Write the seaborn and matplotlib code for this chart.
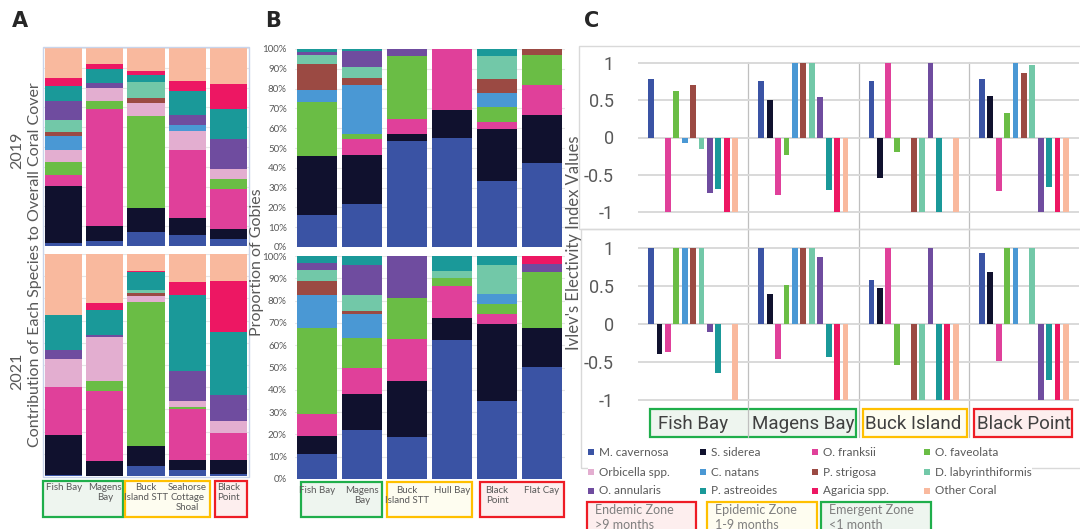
import numpy as np
import pandas as pd
import matplotlib
matplotlib.use("Agg")
import matplotlib.pyplot as plt
import seaborn as sns
from matplotlib.patches import Rectangle
from matplotlib.transforms import blended_transform_factory

# ---- data -------------------------------------------------------------
species = ["M. cavernosa", "S. siderea", "O. franksii", "O. faveolata",
           "Orbicella spp.", "C. natans", "P. strigosa", "D. labyrinthiformis",
           "O. annularis", "P. astreoides", "Agaricia spp.", "Other Coral"]
species_colors = ["#3a53a4", "#10112e", "#e0409a", "#6abd45", "#e3aed0", "#4a98d4",
                  "#9b4a43", "#72c8a8", "#6f4c9f", "#1a9999", "#ed1763", "#f9b99e"]

# A: % contribution of each species to coral cover (species order as above)
coral_sites = ["Fish Bay", "Magens\nBay", "Buck\nIsland STT", "Seahorse\nCottage\nShoal", "Black\nPoint"]
coral_2019 = [
    [1.7, 28.8, 5.6, 6.1, 6.1, 7.1, 2.2, 5.9, 9.8, 7.4, 3.9, 15.4],
    [2.7, 7.6, 59.0, 4.0, 6.7, 0, 0, 0, 2.4, 6.9, 2.5, 8.2],
    [6.9, 12.1, 0, 46.7, 6.7, 0, 2.5, 7.9, 0, 3.7, 1.9, 11.6],
    [5.6, 8.6, 34.1, 0, 9.9, 3.0, 0, 0, 4.9, 12.3, 5.1, 16.5],
    [3.4, 5.1, 20.4, 4.7, 5.1, 0, 0.3, 0, 15.0, 15.2, 12.6, 18.2],
]
coral_2021 = [
    [0.3, 18.3, 21.5, 0, 12.6, 0, 0, 0, 3.9, 15.8, 0, 27.6],
    [0, 6.6, 31.9, 4.1, 20.0, 0, 0, 0, 0.8, 11.4, 3.0, 22.2],
    [4.7, 9.0, 0, 64.7, 2.7, 0, 1.5, 1.4, 0, 7.8, 0.6, 7.6],
    [2.9, 4.2, 23.0, 1.2, 2.7, 0, 0, 0, 13.2, 34.4, 5.9, 12.5],
    [0.8, 6.3, 12.2, 0, 5.3, 0, 0, 0, 11.9, 28.3, 22.9, 12.3],
]

# B: proportion of gobies on each coral species
goby_sites = ["Fish Bay", "Magens\nBay", "Buck\nIsland STT", "Hull Bay", "Black\nPoint", "Flat Cay"]
goby_2019 = [
    [16.2, 30.0, 0, 27.2, 0, 5.7, 13.5, 4.5, 1.4, 1.5, 0, 0],
    [21.9, 24.6, 7.8, 2.9, 0, 24.8, 3.5, 5.4, 7.9, 1.2, 0, 0],
    [53.5, 3.7, 7.2, 32.2, 0, 0, 0, 0, 3.4, 0, 0, 0],
    [55.1, 13.9, 31.0, 0, 0, 0, 0, 0, 0, 0, 0, 0],
    [33.2, 26.2, 3.7, 7.4, 0, 7.4, 7.1, 11.5, 0, 3.5, 0, 0],
    [42.3, 24.4, 15.1, 15.2, 0, 0, 3.0, 0, 0, 0, 0, 0],
]
goby_2021 = [
    [11.2, 8.2, 9.7, 38.8, 0, 14.5, 6.4, 4.8, 3.4, 3.0, 0, 0],
    [21.8, 16.3, 11.9, 13.3, 0, 10.9, 1.0, 7.5, 13.1, 4.2, 0, 0],
    [18.8, 25.1, 18.8, 18.6, 0, 0, 0, 0, 18.7, 0, 0, 0],
    [62.2, 10.2, 14.0, 3.7, 0, 0, 0, 3.2, 0, 6.7, 0, 0],
    [34.8, 34.9, 4.5, 4.3, 0, 4.3, 0, 13.0, 0, 4.2, 0, 0],
    [50.1, 17.8, 0, 24.9, 0, 0, 0, 0, 3.8, 0, 3.4, 0],
]

# C: Ivlev's electivity (no Orbicella spp.)
ivlev_sites = ["Fish Bay", "Magens Bay", "Buck Island", "Black Point"]
ivlev_species = [s for s in species if s != "Orbicella spp."]
ivlev_2019 = [
    [0.78, -0.01, -1, 0.62, -0.08, 0.70, -0.16, -0.74, -0.69, -1, -1],
    [0.76, 0.51, -0.77, -0.23, 1, 1, 1, 0.55, -0.70, -1, -1],
    [0.755, -0.54, 1, -0.19, 0, -1, -1, 1, -1, 0, -1],
    [0.78, 0.56, -0.72, 0.33, 1, 0.87, 0.97, -1, -0.66, -1, -1],
]
ivlev_2021 = [
    [1, -0.40, -0.37, 1, 1, 1, 1, -0.10, -0.65, 0, -1],
    [1, 0.40, -0.46, 0.51, 1, 1, 1, 0.875, -0.44, -1, -1],
    [0.585, 0.475, 1, -0.545, 0, -1, -1, 1, -1, -1, -1],
    [0.94, 0.68, -0.49, 1, 1, 0, 1, -1, -0.74, -1, -1],
]

zones = [("Endemic Zone\n>9 months", "red"), ("Epidemic Zone\n1-9 months", "yellow"),
         ("Emergent Zone\n<1 month", "green")]

# ---- style ------------------------------------------------------------
sns.set_style("white")
plt.rcParams['font.family'] = ['Lato', 'DejaVu Sans']

W, H = 1080, 529
GRAY = "#595959"
zone_edge = {"green": "#1fae4b", "yellow": "#ffc000", "red": "#ee1c25"}
zone_fill = {"green": "#eef5ef", "yellow": "#fefdf0", "red": "#fdeeee"}

fig = plt.figure(figsize=(W / 100, H / 100), dpi=100)


def px(x0, y0, x1, y1):
    return [x0 / W, 1 - y1 / H, (x1 - x0) / W, (y1 - y0) / H]


def stacked(ax, sites, table, width):
    vals = np.array(table)
    cum = np.cumsum(vals, axis=1)
    # draw cumulative totals from the top layer down
    for k in range(len(species) - 1, -1, -1):
        sns.barplot(x=sites, y=cum[:, k], color=species_colors[k], width=width,
                    saturation=1, linewidth=0, ax=ax)
    ax.set_xlim(-0.5, len(sites) - 0.5)
    ax.set_ylim(0, 100)
    ax.set_yticks(np.arange(0, 101, 10))
    ax.yaxis.grid(True, color="#e6e6e6", linewidth=0.8)
    ax.set_axisbelow(True)
    ax.set_xticks([])
    ax.set_xlabel("")
    ax.set_ylabel("")
    for s in ax.spines.values():
        s.set_visible(False)


def site_boxes(ax, sites, spans, y0, y1, fs, text_y):
    tr = blended_transform_factory(ax.transData, fig.transFigure)
    for (x0, x1, z) in spans:
        ax.add_patch(Rectangle((x0, 1 - y1 / H), x1 - x0, (y1 - y0) / H, transform=tr,
                               clip_on=False, facecolor=zone_fill[z], edgecolor=zone_edge[z],
                               linewidth=1.6))
    for i, s in enumerate(sites):
        ax.text(i, 1 - text_y / H, s, transform=tr, ha="center", va="top",
                multialignment="center", fontsize=fs, color=GRAY, linespacing=1.15)


# ---- panel A ----------------------------------------------------------
axA1 = fig.add_axes(px(43, 48, 249, 246))
axA2 = fig.add_axes(px(43, 254, 249, 476))
stacked(axA1, coral_sites, coral_2019, 0.9)
stacked(axA2, coral_sites, coral_2021, 0.9)
for a in (axA1, axA2):
    a.set_yticklabels([])
    a.tick_params(left=False)
fig.add_artist(Rectangle((43 / W, 1 - 477 / H), 206 / W, 430 / H, transform=fig.transFigure,
                         fill=False, edgecolor="#c9d4ea", linewidth=1.0))
site_boxes(axA2, coral_sites, [(-0.5, 1.44, "green"), (1.49, 3.55, "yellow"), (3.67, 4.45, "red")],
           481, 517, 7, 483)
fig.text(17 / W, 1 - 150 / H, "2019", rotation=90, ha="center", va="center", fontsize=11.5, color=GRAY)
fig.text(17 / W, 1 - 371 / H, "2021", rotation=90, ha="center", va="center", fontsize=11.5, color=GRAY)
fig.text(35 / W, 1 - 265 / H, "Contribution of Each Species to Overall Coral Cover", rotation=90,
         ha="center", va="center", fontsize=11.5, color=GRAY)

# ---- panel B ----------------------------------------------------------
axB1 = fig.add_axes(px(294.5, 49, 564.5, 247))
axB2 = fig.add_axes(px(294.5, 256, 564.5, 479))
stacked(axB1, goby_sites, goby_2019, 0.89)
stacked(axB2, goby_sites, goby_2021, 0.89)
for a in (axB1, axB2):
    a.set_yticklabels([f"{v}%" for v in range(0, 101, 10)], fontsize=7, color=GRAY)
    a.tick_params(left=False, pad=2)
site_boxes(axB2, goby_sites, [(-0.36, 1.44, "green"), (1.56, 3.44, "yellow"), (3.62, 5.49, "red")],
           482, 517, 7, 486)
fig.text(257 / W, 1 - 262 / H, "Proportion of Gobies", rotation=90, ha="center", va="center",
         fontsize=11.5, color=GRAY)

# ---- panel C ----------------------------------------------------------
fig.add_artist(Rectangle((579 / W, 1 - 229 / H), 520 / W, 183 / H, transform=fig.transFigure,
                         fill=False, edgecolor="#d9d9d9", linewidth=1.0))
fig.add_artist(Rectangle((581 / W, 1 - 468 / H), 520 / W, 239 / H, transform=fig.transFigure,
                         fill=False, edgecolor="#d9d9d9", linewidth=1.0))

axC1 = fig.add_axes(px(638, 59.3, 1079, 215.7))
axC2 = fig.add_axes(px(638, 244.2, 1079, 403.8))
for a, table, (sy0, sy1) in ((axC1, ivlev_2019, (62, 229)), (axC2, ivlev_2021, (229, 437))):
    df = pd.DataFrame([(site, sp, v) for site, row in zip(ivlev_sites, table)
                       for sp, v in zip(ivlev_species, row)],
                      columns=["site", "species", "value"])
    sns.barplot(data=df, x="site", y="value", hue="species", hue_order=ivlev_species,
                palette=[species_colors[species.index(s)] for s in ivlev_species],
                width=0.84, gap=0.3, saturation=1, linewidth=0, errorbar=None,
                legend=False, ax=a)
    a.set_xlim(-0.5, 3.5)
    a.set_ylim(-1.05, 1.05)
    a.set_yticks([1, 0.5, 0, -0.5, -1])
    a.set_yticklabels(["1", "0.5", "0", "-0.5", "-1"], fontsize=13, color=GRAY, family="Roboto")
    a.yaxis.grid(True, color="#d9d9d9", linewidth=1.4)
    a.set_axisbelow(True)
    a.tick_params(left=False, pad=14)
    a.set_xticks([])
    a.set_xlabel("")
    a.set_ylabel("")
    a.patch.set_alpha(0)
    for s in a.spines.values():
        s.set_visible(False)
    tr = blended_transform_factory(a.transData, fig.transFigure)
    for xs in (0.5, 1.5, 2.5):
        a.plot([xs, xs], [1 - sy0 / H, 1 - sy1 / H], transform=tr, color="#bfbfbf",
               linewidth=0.9, clip_on=False, zorder=0)

trC = blended_transform_factory(axC2.transData, fig.transFigure)
for x0, x1, z in [(-0.39, 1.48, "green"), (1.54, 2.48, "yellow"), (2.55, 3.44, "red")]:
    axC2.add_patch(Rectangle((x0, 1 - 437 / H), x1 - x0, 28 / H, transform=trC,
                             clip_on=False, facecolor=zone_fill[z], edgecolor=zone_edge[z],
                             linewidth=1.6, zorder=-1))
for i, s in enumerate(ivlev_sites):
    axC2.text(i, 1 - 424 / H, s, transform=trC, ha="center", va="center", fontsize=13.5,
              color="#404040", family="Roboto")

fig.text(574 / W, 1 - 243 / H, "Ivlev's Electivity Index Values", rotation=90, ha="center",
         va="center", fontsize=12, color=GRAY)

# legend
fig.add_artist(Rectangle((588 / W, 1 - 500 / H), 444 / W, 58 / H, transform=fig.transFigure,
                         facecolor="white", edgecolor="none"))
col_x = [591, 703, 815, 927]
row_y = [452, 472, 491]
for i, (name, c) in enumerate(zip(species, species_colors)):
    x, y = col_x[i % 4], row_y[i // 4]
    fig.add_artist(Rectangle(((x - 3) / W, 1 - (y + 3) / H), 6 / W, 6 / H,
                             transform=fig.transFigure, facecolor=c, edgecolor="none"))
    fig.text((x + 8) / W, 1 - y / H, name, ha="left", va="center", fontsize=8.5, color=GRAY)

# zone legend boxes
for (label, z), (x0, x1) in zip(zones, [(587, 696), (707, 817), (821, 931)]):
    fig.add_artist(Rectangle((x0 / W, 1 - 540 / H), (x1 - x0) / W, 38 / H, transform=fig.transFigure,
                             facecolor=zone_fill[z], edgecolor=zone_edge[z], linewidth=1.6))
    fig.text((x0 + 8) / W, 1 - 504 / H, label, ha="left", va="top", fontsize=9, color="#7f7f7f",
             linespacing=1.3)

# panel letters
for letter, x in (("A", 12), ("B", 265), ("C", 584)):
    fig.text(x / W, 1 - 21 / H, letter, ha="left", va="center", fontsize=15, fontweight="bold",
             family="DejaVu Sans")

fig.savefig("out.png", dpi=100)
